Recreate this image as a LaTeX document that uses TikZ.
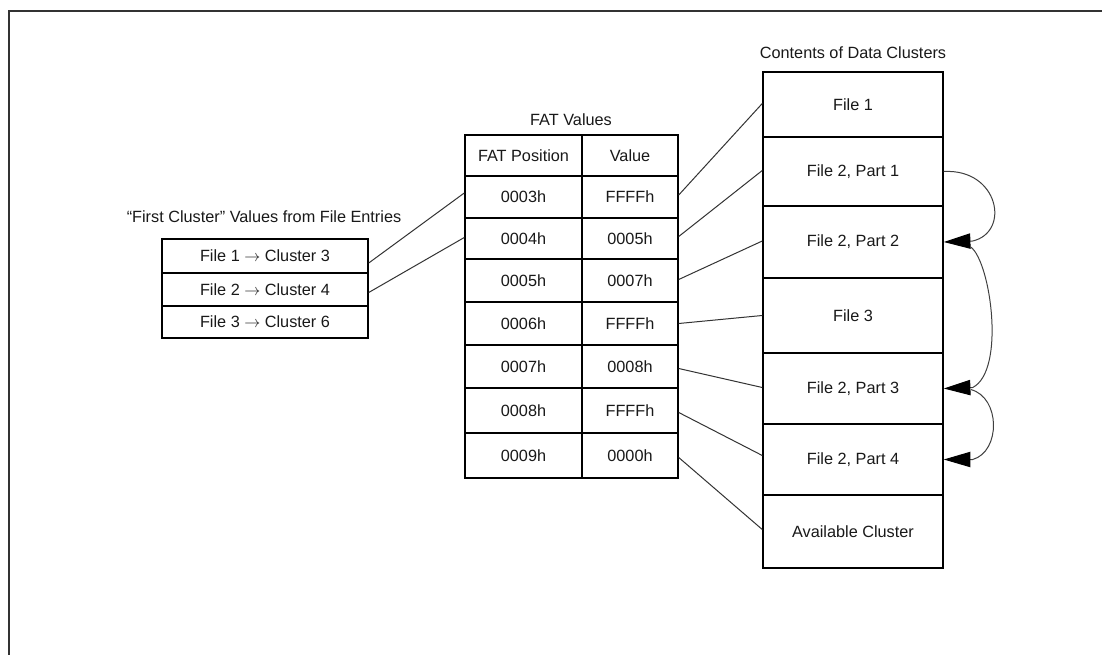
\documentclass[tikz,border=0pt]{standalone}
\usepackage{fontspec}
\setmainfont{Liberation Sans}
\usetikzlibrary{arrows.meta,calc}

\tikzset{
  cell/.style={draw=black, line width=1.1pt, rectangle, inner sep=0pt,
    font=\fontsize{12.2pt}{14pt}\selectfont, text=black!90},
  caption/.style={inner sep=0pt, font=\fontsize{12.2pt}{14pt}\selectfont, text=black!90},
  link/.style={draw=black!80, line width=0.75pt},
  chain/.style={draw=black!75, line width=0.75pt,
    -{Triangle[length=20pt,width=11.5pt,color=black,fill=black]}},
  frame/.style={draw=black!80, line width=1.2pt}
}

% helper: a cell given left, top, right, bottom in pixel units
\newcommand{\pxcell}[6]{%
  \node[cell, minimum width={(#4-#2)*0.75pt}, minimum height={(#5-#3)*0.75pt}]
    (#1) at ({(#2+#4)/2},{(#3+#5)/2}) {#6};}
\newcommand{\ptr}{ \ensuremath{\rightarrow} }

\begin{document}
\begin{tikzpicture}[x=0.75pt, y=-0.75pt]
  \useasboundingbox (0,0) rectangle (1102,655);
  \fill[white] (0,0) rectangle (1102,655);

  % outer frame (top and left edges)
  \draw[frame] (9,655) -- (9,11) -- (1102,11);

  % first-cluster table
  \node[caption] (ltitle) at (264,217) {“First Cluster” Values from File Entries};
  \pxcell{l1}{162}{239}{368}{273}{File 1\ptr Cluster 3}
  \pxcell{l2}{162}{273}{368}{306}{File 2\ptr Cluster 4}
  \pxcell{l3}{162}{306}{368}{338}{File 3\ptr Cluster 6}

  % FAT table
  \node[caption] (ftitle) at (571,120) {FAT Values};
  \pxcell{fhp}{465}{135}{582}{176}{FAT Position}
  \pxcell{fhv}{582}{135}{678}{176}{Value}
  \pxcell{p3}{465}{176}{582}{218}{0003h}
  \pxcell{v3}{582}{176}{678}{218}{FFFFh}
  \pxcell{p4}{465}{218}{582}{259}{0004h}
  \pxcell{v4}{582}{218}{678}{259}{0005h}
  \pxcell{p5}{465}{259}{582}{302}{0005h}
  \pxcell{v5}{582}{259}{678}{302}{0007h}
  \pxcell{p6}{465}{302}{582}{345}{0006h}
  \pxcell{v6}{582}{302}{678}{345}{FFFFh}
  \pxcell{p7}{465}{345}{582}{388}{0007h}
  \pxcell{v7}{582}{345}{678}{388}{0008h}
  \pxcell{p8}{465}{388}{582}{433}{0008h}
  \pxcell{v8}{582}{388}{678}{433}{FFFFh}
  \pxcell{p9}{465}{433}{582}{478}{0009h}
  \pxcell{v9}{582}{433}{678}{478}{0000h}

  % data clusters
  \node[caption] (dtitle) at (853,53) {Contents of Data Clusters};
  \pxcell{d1}{763}{72}{943}{137}{File 1}
  \pxcell{d2}{763}{137}{943}{206}{File 2, Part 1}
  \pxcell{d3}{763}{206}{943}{278}{File 2, Part 2}
  \pxcell{d4}{763}{278}{943}{353}{File 3}
  \pxcell{d5}{763}{353}{943}{424}{File 2, Part 3}
  \pxcell{d6}{763}{424}{943}{495}{File 2, Part 4}
  \pxcell{d7}{763}{495}{943}{568}{Available Cluster}

  % directory entries to FAT positions
  \draw[link] ($(l1.east)+(0,7)$) -- ($(p3.west)+(0,-4)$);
  \draw[link] ($(l2.east)+(0,3)$) -- ($(p4.west)+(0,-1)$);
  \draw[link] ($(l3.east)+(0,2)$) -- ($(l3.east)+(0,2)$ -| p6.west);

  % FAT entries to data clusters
  \draw[link] ($(v3.east)+(0,-2)$) -- ($(d1.west)+(0,-1)$);
  \draw[link] ($(v4.east)+(0,-2)$) -- ($(d2.west)+(0,-1)$);
  \draw[link] ($(v5.east)+(0,-1)$) -- ($(d3.west)+(0,-1)$);
  \draw[link] (v6.east) -- (d4.west);
  \draw[link] ($(v7.east)+(0,2)$) -- ($(d5.west)+(0,-1)$);
  \draw[link] ($(v8.east)+(0,2)$) -- ($(d6.west)+(0,-4)$);
  \draw[link] ($(v9.east)+(0,2)$) -- ($(d7.west)+(0,-2)$);

  % cluster chain of file 2
  \draw[chain] (d2.east) .. controls ($(d2.east)+(55,-3)$) and ($(d3.east)+(67,-10)$)
    .. ($(d3.east)+(29,-1)$) -- (d3.east);
  \draw[chain] ($(d3.east)+(27,5)$) .. controls ($(d3.east)+(47,20)$) and ($(d5.east)+(62,-18)$)
    .. ($(d5.east)+(29,-1)$) -- (d5.east);
  \draw[chain] ($(d5.east)+(27,1)$) .. controls ($(d5.east)+(57,9)$) and ($(d6.east)+(57,-8)$)
    .. ($(d6.east)+(29,0)$) -- (d6.east);
\end{tikzpicture}
\end{document}
